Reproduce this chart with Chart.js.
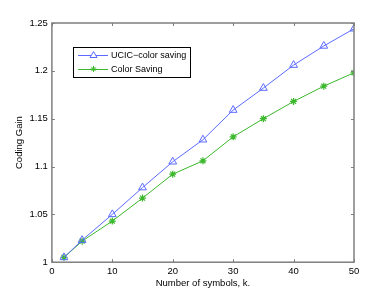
<!DOCTYPE html>
<html>
<head>
<meta charset="utf-8">
<script src="https://cdn.jsdelivr.net/npm/chart.js@4/dist/chart.umd.min.js"></script>
<style>
  html, body { margin: 0; padding: 0; background: #fff; }
  #wrap { width: 390px; height: 294px; }
</style>
</head>
<body>
<div id="wrap"><canvas id="myChart" width="390" height="294"></canvas></div>
<script>
// valeurs
const symbols = [2, 5, 10, 15, 20, 25, 30, 35, 40, 45, 50];
const ucicSaving = [1.005, 1.023, 1.050, 1.078, 1.105, 1.128, 1.159, 1.182, 1.206, 1.226, 1.244];
const colorSaving = [1.005, 1.022, 1.043, 1.067, 1.092, 1.106, 1.131, 1.150, 1.168, 1.184, 1.198];
const xTicks = [0, 10, 20, 30, 40, 50];
const yTicks = [1, 1.05, 1.1, 1.15, 1.2, 1.25];
const seriesNames = ['UCIC\u2212color saving', 'Color Saving'];

const blue = '#5b6bff';
const green = '#3cb82c';
const axisGray = '#7f7f7f';
const font = '"Liberation Sans", Arial, sans-serif';

const toPoints = (ys) => symbols.map((x, i) => ({ x: x, y: ys[i] }));

// cadre + petites graduations vers l'intérieur (style matlab)
const boxPlugin = {
  id: 'box',
  afterDatasetsDraw(chart) {
    const { ctx, chartArea: a, scales } = chart;
    ctx.save();
    ctx.strokeStyle = axisGray;
    ctx.lineWidth = 1.5;
    ctx.strokeRect(a.left, a.top, a.right - a.left, a.bottom - a.top);
    ctx.lineWidth = 1;
    ctx.beginPath();
    xTicks.forEach(v => {
      const px = Math.round(scales.x.getPixelForValue(v)) + 0.5;
      ctx.moveTo(px, a.bottom); ctx.lineTo(px, a.bottom - 3);
      ctx.moveTo(px, a.top); ctx.lineTo(px, a.top + 3);
    });
    yTicks.forEach(v => {
      const py = Math.round(scales.y.getPixelForValue(v)) + 0.5;
      ctx.moveTo(a.left, py); ctx.lineTo(a.left + 3, py);
      ctx.moveTo(a.right, py); ctx.lineTo(a.right - 3, py);
    });
    ctx.stroke();
    ctx.restore();
  }
};

// légende encadrée dans le graphique
const legendPlugin = {
  id: 'boxLegend',
  afterDraw(chart) {
    const { ctx } = chart;
    const x0 = 73, y0 = 47, w = 117, h = 30;
    ctx.save();
    ctx.fillStyle = '#fff';
    ctx.fillRect(x0, y0, w, h);
    ctx.strokeStyle = '#000';
    ctx.lineWidth = 1;
    ctx.strokeRect(x0 + 0.5, y0 + 0.5, w, h);
    const rows = [
      { y: y0 + 8, color: blue, name: seriesNames[0], marker: 'tri' },
      { y: y0 + 22, color: green, name: seriesNames[1], marker: 'star' }
    ];
    rows.forEach(r => {
      ctx.strokeStyle = r.color;
      ctx.lineWidth = 1;
      ctx.beginPath();
      ctx.moveTo(x0 + 5, r.y + 0.5); ctx.lineTo(x0 + 35, r.y + 0.5);
      ctx.stroke();
      const cx = x0 + 20.5;
      ctx.beginPath();
      if (r.marker === 'tri') {
        ctx.moveTo(cx, r.y - 3.5); ctx.lineTo(cx + 3.5, r.y + 2.5); ctx.lineTo(cx - 3.5, r.y + 2.5); ctx.closePath();
        ctx.fillStyle = '#fff'; ctx.fill();
      } else {
        for (let k = 0; k < 4; k++) {
          const ang = k * Math.PI / 4;
          ctx.moveTo(cx - 3 * Math.cos(ang), r.y - 3 * Math.sin(ang));
          ctx.lineTo(cx + 3 * Math.cos(ang), r.y + 3 * Math.sin(ang));
        }
      }
      ctx.stroke();
      ctx.fillStyle = '#000';
      ctx.font = '9px ' + font;
      ctx.textBaseline = 'middle';
      ctx.fillText(r.name, x0 + 38, r.y + 1);
    });
    ctx.restore();
  }
};

const ctx = document.getElementById('myChart').getContext('2d');
const myChart = new Chart(ctx, {
  type: 'line',
  data: {
    datasets: [{
      label: seriesNames[0],
      data: toPoints(ucicSaving),
      borderColor: blue,
      borderWidth: 1,
      pointStyle: 'triangle',
      pointRadius: 4.5,
      pointBorderWidth: 1,
      pointBorderColor: blue,
      pointBackgroundColor: 'rgba(255,255,255,0)',
      tension: 0
    }, {
      label: seriesNames[1],
      data: toPoints(colorSaving),
      borderColor: green,
      borderWidth: 1,
      pointStyle: 'star',
      pointRadius: 3.5,
      pointBorderWidth: 1.2,
      pointBorderColor: green,
      pointBackgroundColor: green,
      tension: 0
    }]
  },
  options: {
    responsive: false,
    animation: false,
    layout: { padding: { left: 14, right: 36, top: 23, bottom: 0 } },
    scales: {
      x: {
        type: 'linear',
        min: 0, max: 50,
        afterBuildTicks: (s) => { s.ticks = xTicks.map(v => ({ value: v })); },
        grid: { display: false, drawTicks: false },
        border: { display: false },
        ticks: { color: '#000', padding: 3, font: { family: font, size: 9.5 } },
        title: { display: true, text: 'Number of symbols, k.', color: '#000', padding: { top: -2, bottom: 5 }, font: { family: font, size: 9.5 } }
      },
      y: {
        min: 1, max: 1.25,
        afterBuildTicks: (s) => { s.ticks = yTicks.map(v => ({ value: v })); },
        grid: { display: false, drawTicks: false },
        border: { display: false },
        ticks: { color: '#000', padding: 4, font: { family: font, size: 9.5 }, callback: v => String(+v.toFixed(2)) },
        title: { display: true, text: 'Coding Gain', color: '#000', padding: { top: 0, bottom: 0 }, font: { family: font, size: 9.5 } }
      }
    },
    plugins: {
      legend: { display: false },
      tooltip: { enabled: false }
    }
  },
  plugins: [boxPlugin, legendPlugin]
});
</script>
</body>
</html>
